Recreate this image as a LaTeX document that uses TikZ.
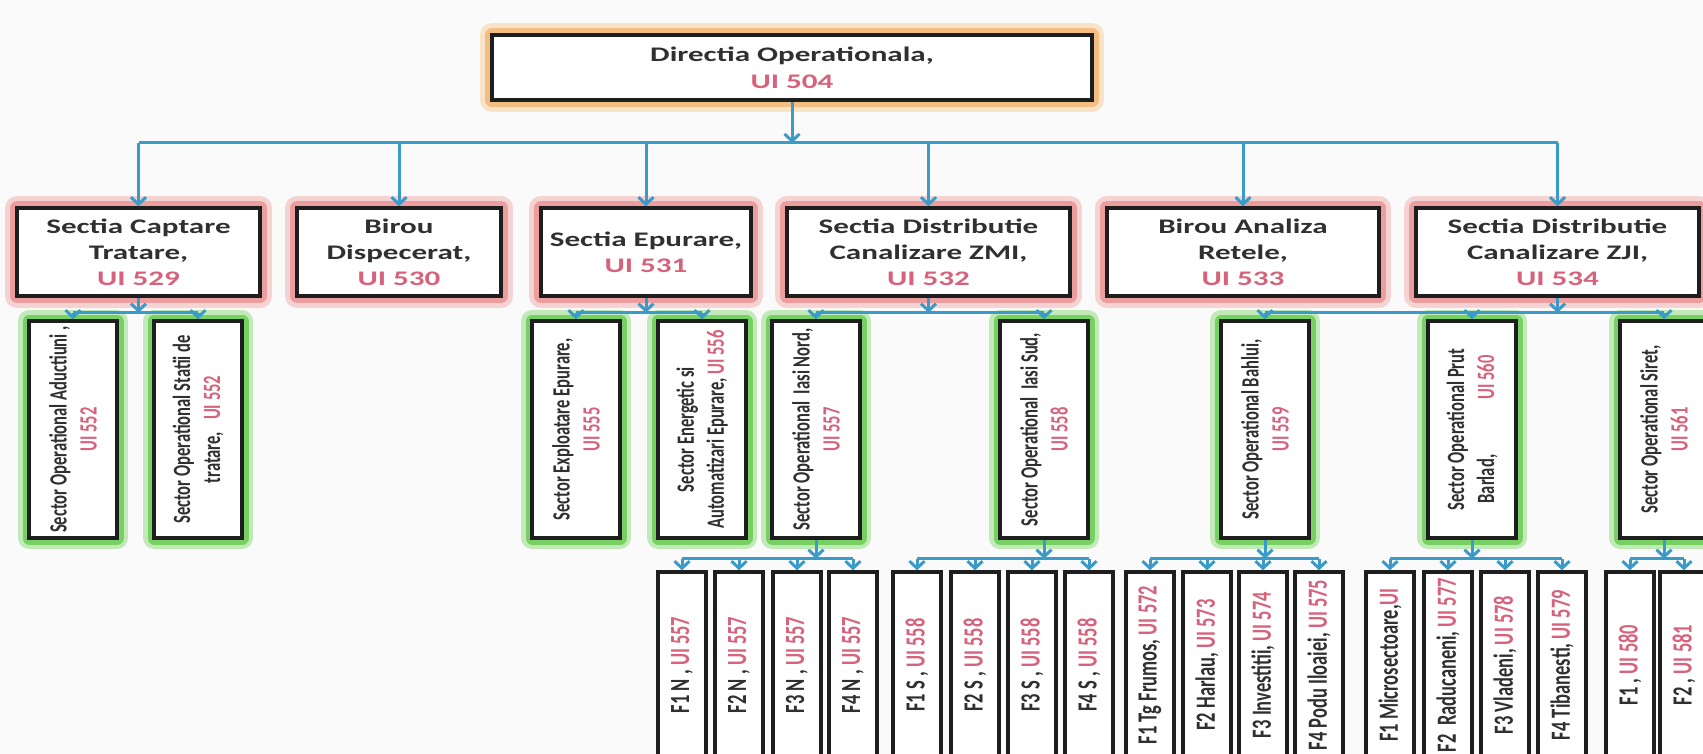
\documentclass[tikz,border=0pt]{standalone}
\usepackage{fontspec}
\setmainfont{Carlito}
\newfontfamily\widefont{Carlito}[FakeStretch=1.5]
\newfontfamily\narrowfont{Carlito}[FakeStretch=0.667]
\usetikzlibrary{arrows.meta}
\usepackage{xcolor}
\definecolor{LineBlue}{RGB}{58,154,200}
\definecolor{UiPink}{RGB}{214,98,124}
\definecolor{TextDark}{RGB}{48,48,48}
\definecolor{BoxLine}{RGB}{30,30,30}
\definecolor{GlowPink}{RGB}{236,158,158}
\definecolor{GlowOrange}{RGB}{244,190,130}
\definecolor{GlowGreen}{RGB}{118,208,98}
\definecolor{PageBg}{RGB}{250,250,250}

\begin{document}
\begin{tikzpicture}[x=1pt, y=-1pt,
    plainbox/.style={draw=BoxLine, line width=3.5pt, fill=white, inner sep=0pt, align=center, text=TextDark},
    dirbox/.style={plainbox, preaction={draw=GlowOrange!45, line width=24pt, line join=round}, preaction={draw=GlowOrange, line width=14pt, line join=round}, minimum width=600pt, minimum height=65pt, font=\widefont\bfseries\fontsize{20.7pt}{27pt}\selectfont},
    secbox/.style={plainbox, preaction={draw=GlowPink!45, line width=24pt, line join=round}, preaction={draw=GlowPink, line width=14pt, line join=round}, minimum height=88pt, font=\widefont\bfseries\fontsize{20.7pt}{26pt}\selectfont},
    sectorbox/.style={plainbox, preaction={draw=GlowGreen!45, line width=22pt, line join=round}, preaction={draw=GlowGreen, line width=13pt, line join=round}, rotate=90, minimum width=217pt, minimum height=88pt, font=\narrowfont\bfseries\fontsize{24.8pt}{30pt}\selectfont},
    fnode/.style={plainbox, rotate=90, minimum width=186pt, minimum height=48pt, font=\narrowfont\bfseries\fontsize{27.7pt}{30pt}\selectfont},
    link/.style={draw=LineBlue, line width=3pt},
    arr/.style={link, -{Straight Barb[length=7pt,width=15pt]}}
  ]
  \useasboundingbox (0,0) rectangle (1703,754);
  \fill[PageBg] (0,0) rectangle (1703,754);

  % top
  \node[dirbox] (dir) at (792,67.5) {Directia Operationala,\\\textcolor{UiPink}{UI 504}};

  % sectii si birouri
  \node[secbox, minimum width=243pt] (cap)  at (138.5,252) {Sectia Captare\\Tratare,\\\textcolor{UiPink}{UI 529}};
  \node[secbox, minimum width=204pt] (disp) at (399,252)   {Birou\\Dispecerat,\\\textcolor{UiPink}{UI 530}};
  \node[secbox, minimum width=210pt] (epur) at (646,252)   {Sectia Epurare,\\\textcolor{UiPink}{UI 531}};
  \node[secbox, minimum width=283pt] (zmi)  at (928.5,252) {Sectia Distributie\\Canalizare ZMI,\\\textcolor{UiPink}{UI 532}};
  \node[secbox, minimum width=272pt] (anal) at (1243,252)  {Birou Analiza\\Retele,\\\textcolor{UiPink}{UI 533}};
  \node[secbox, minimum width=283pt] (zji)  at (1557.5,252) {Sectia Distributie\\Canalizare ZJI,\\\textcolor{UiPink}{UI 534}};

  % sectoare
  \node[sectorbox] (aduct)   at (73,429.5)   {Sector Operational Aductiuni ,\\\textcolor{UiPink}{UI 552}};
  \node[sectorbox] (statii)  at (198,429.5)  {Sector Operational Statii de\\tratare,\hspace{12pt}\textcolor{UiPink}{UI 552}};
  \node[sectorbox] (exploat) at (576,429.5)  {Sector Exploatare Epurare,\\\textcolor{UiPink}{UI 555}};
  \node[sectorbox] (energ)   at (702,429.5)  {Sector Energetic si\\Automatizari Epurare, \textcolor{UiPink}{UI 556}};
  \node[sectorbox] (nord)    at (816,429.5)  {Sector Operational\ \ Iasi Nord,\\\textcolor{UiPink}{UI 557}};
  \node[sectorbox] (sud)     at (1044,429.5) {Sector Operational\ \ Iasi Sud,\\\textcolor{UiPink}{UI 558}};
  \node[sectorbox] (bahlui)  at (1265,429.5) {Sector Operational Bahlui,\\\textcolor{UiPink}{UI 559}};
  \node[sectorbox] (prut)    at (1472,429.5) {Sector Operational Prut\\Barlad,\hspace{55pt}\textcolor{UiPink}{UI 560}};
  \node[sectorbox] (siret)   at (1664,429.5) {Sector Operational Siret,\\\textcolor{UiPink}{UI 561}};

  % formatii
  \node[fnode] (n1) at (682,665)  {F1 N , \textcolor{UiPink}{UI 557}};
  \node[fnode] (n2) at (739,665)  {F2 N , \textcolor{UiPink}{UI 557}};
  \node[fnode] (n3) at (797,665)  {F3 N , \textcolor{UiPink}{UI 557}};
  \node[fnode] (n4) at (853,665)  {F4 N , \textcolor{UiPink}{UI 557}};
  \node[fnode] (s1) at (917,665)  {F1 S , \textcolor{UiPink}{UI 558}};
  \node[fnode] (s2) at (975,665)  {F2 S , \textcolor{UiPink}{UI 558}};
  \node[fnode] (s3) at (1032,665) {F3 S , \textcolor{UiPink}{UI 558}};
  \node[fnode] (s4) at (1089,665) {F4 S , \textcolor{UiPink}{UI 558}};
  \node[fnode] (b1) at (1150,665) {F1 Tg Frumos, \textcolor{UiPink}{UI 572}};
  \node[fnode] (b2) at (1207,665) {F2 Harlau, \textcolor{UiPink}{UI 573}};
  \node[fnode] (b3) at (1263,665) {F3 Investitii, \textcolor{UiPink}{UI 574}};
  \node[fnode] (b4) at (1319,665) {F4 Podu Iloaiei, \textcolor{UiPink}{UI 575}};
  \node[fnode] (p1) at (1390,665) {F1 Microsectoare,\textcolor{UiPink}{UI}};
  \node[fnode] (p2) at (1448,665) {F2\ \ Raducaneni, \textcolor{UiPink}{UI 577}};
  \node[fnode] (p3) at (1505,665) {F3 Vladeni, \textcolor{UiPink}{UI 578}};
  \node[fnode] (p4) at (1562,665) {F4 Tibanesti, \textcolor{UiPink}{UI 579}};
  \node[fnode] (r1) at (1630,665) {F1 , \textcolor{UiPink}{UI 580}};
  \node[fnode] (r2) at (1684,665) {F2 , \textcolor{UiPink}{UI 581}};

  % directie -> sectii
  \coordinate (bus1) at (792,143);
  \draw[arr] (dir.south) -- (bus1);
  \draw[link] (cap.north |- bus1) -- (zji.north |- bus1);
  \draw[arr] (cap.north |- bus1)  -- (cap.north);
  \draw[arr] (disp.north |- bus1) -- (disp.north);
  \draw[arr] (epur.north |- bus1) -- (epur.north);
  \draw[arr] (zmi.north |- bus1)  -- (zmi.north);
  \draw[arr] (anal.north |- bus1) -- (anal.north);
  \draw[arr] (zji.north |- bus1)  -- (zji.north);

  % sectii -> sectoare
  \path (cap.south) ++(0,15) coordinate (capfork);
  \draw[arr] (cap.south) -- (capfork);
  \draw[link] (aduct.east |- capfork) -- (statii.east |- capfork);
  \draw[arr] (aduct.east |- capfork)  -- (aduct.east);
  \draw[arr] (statii.east |- capfork) -- (statii.east);

  \path (epur.south) ++(0,15) coordinate (epurfork);
  \draw[arr] (epur.south) -- (epurfork);
  \draw[link] (exploat.east |- epurfork) -- (energ.east |- epurfork);
  \draw[arr] (exploat.east |- epurfork) -- (exploat.east);
  \draw[arr] (energ.east |- epurfork)   -- (energ.east);

  \path (zmi.south) ++(0,15) coordinate (zmifork);
  \draw[arr] (zmi.south) -- (zmifork);
  \draw[link] (nord.east |- zmifork) -- (sud.east |- zmifork);
  \draw[arr] (nord.east |- zmifork) -- (nord.east);
  \draw[arr] (sud.east |- zmifork)  -- (sud.east);

  \path (zji.south) ++(0,15) coordinate (zjifork);
  \draw[arr] (zji.south) -- (zjifork);
  \draw[link] (bahlui.east |- zjifork) -- (siret.east |- zjifork);
  \draw[arr] (bahlui.east |- zjifork) -- (bahlui.east);
  \draw[arr] (prut.east |- zjifork)   -- (prut.east);
  \draw[arr] (siret.east |- zjifork)  -- (siret.east);

  % sectoare -> formatii
  \path (nord.west) ++(0,19) coordinate (nordfork);
  \draw[arr] (nord.west) -- (nordfork);
  \draw[link] (n1.east |- nordfork) -- (n4.east |- nordfork);
  \draw[arr] (n1.east |- nordfork) -- (n1.east);
  \draw[arr] (n2.east |- nordfork) -- (n2.east);
  \draw[arr] (n3.east |- nordfork) -- (n3.east);
  \draw[arr] (n4.east |- nordfork) -- (n4.east);

  \path (sud.west) ++(0,19) coordinate (sudfork);
  \draw[arr] (sud.west) -- (sudfork);
  \draw[link] (s1.east |- sudfork) -- (s4.east |- sudfork);
  \draw[arr] (s1.east |- sudfork) -- (s1.east);
  \draw[arr] (s2.east |- sudfork) -- (s2.east);
  \draw[arr] (s3.east |- sudfork) -- (s3.east);
  \draw[arr] (s4.east |- sudfork) -- (s4.east);

  \path (bahlui.west) ++(0,19) coordinate (bahfork);
  \draw[arr] (bahlui.west) -- (bahfork);
  \draw[link] (b1.east |- bahfork) -- (b4.east |- bahfork);
  \draw[arr] (b1.east |- bahfork) -- (b1.east);
  \draw[arr] (b2.east |- bahfork) -- (b2.east);
  \draw[arr] (b3.east |- bahfork) -- (b3.east);
  \draw[arr] (b4.east |- bahfork) -- (b4.east);

  \path (prut.west) ++(0,19) coordinate (prutfork);
  \draw[arr] (prut.west) -- (prutfork);
  \draw[link] (p1.east |- prutfork) -- (p4.east |- prutfork);
  \draw[arr] (p1.east |- prutfork) -- (p1.east);
  \draw[arr] (p2.east |- prutfork) -- (p2.east);
  \draw[arr] (p3.east |- prutfork) -- (p3.east);
  \draw[arr] (p4.east |- prutfork) -- (p4.east);

  \path (siret.west) ++(0,19) coordinate (siretfork);
  \draw[arr] (siret.west) -- (siretfork);
  \draw[link] (r1.east |- siretfork) -- (r2.east |- siretfork);
  \draw[arr] (r1.east |- siretfork) -- (r1.east);
  \draw[arr] (r2.east |- siretfork) -- (r2.east);
\end{tikzpicture}
\end{document}
